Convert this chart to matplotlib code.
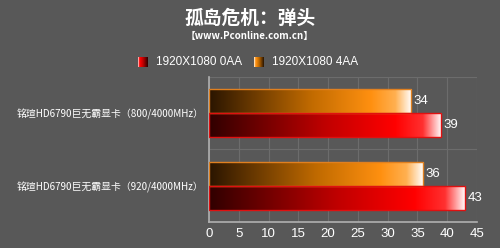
import matplotlib
matplotlib.use("Agg")
import matplotlib.pyplot as plt
import numpy as np
from matplotlib.colors import LinearSegmentedColormap

plt.rcParams['font.family'] = ['Noto Sans CJK SC', 'DejaVu Sans']

categories = ["铭瑄HD6790巨无霸显卡（800/4000MHz）", "铭瑄HD6790巨无霸显卡（920/4000MHz）"]
series_names = ["1920X1080 0AA", "1920X1080 4AA"]
values_0aa = [39, 43]
values_4aa = [34, 36]
x_ticks = [0, 5, 10, 15, 20, 25, 30, 35, 40, 45]

BG = "#585858"
red_cmap = LinearSegmentedColormap.from_list(
    "red", [(0, "#300000"), (0.5, "#c00000"), (0.8, "#ff0000"), (0.92, "#ff3030"), (1, "#ffffff")])
orange_cmap = LinearSegmentedColormap.from_list(
    "orange", [(0, "#2a1500"), (0.5, "#c06a00"), (0.8, "#ff9010"), (0.92, "#ffb050"), (1, "#ffffff")])

fig = plt.figure(figsize=(5, 2.48), dpi=100, facecolor=BG)
ax = fig.add_axes([0.418, 0.105, 0.536, 0.585])
ax.set_facecolor(BG)

bh = 0.33
y = np.arange(len(categories))
grad = np.linspace(0, 1, 256).reshape(1, -1)


def gradient_bar(ax, yc, val, cmap, edge):
    ax.imshow(grad, cmap=cmap, aspect="auto", extent=(0, val, yc + bh / 2, yc - bh / 2),
              zorder=3, interpolation="bilinear")
    ax.barh(yc, val, height=bh, facecolor="none", edgecolor=edge, linewidth=1.0, zorder=4)


for i in range(len(categories)):
    gradient_bar(ax, y[i] - bh / 2, values_4aa[i], orange_cmap, "#e08020")
    gradient_bar(ax, y[i] + bh / 2, values_0aa[i], red_cmap, "#e01010")
    ax.text(values_4aa[i] + 0.4, y[i] - bh / 2, str(values_4aa[i]), color="white",
            va="center", ha="left", fontsize=9.5, family=["Liberation Sans"], zorder=5)
    ax.text(values_0aa[i] + 0.4, y[i] + bh / 2, str(values_0aa[i]), color="white",
            va="center", ha="left", fontsize=9.5, family=["Liberation Sans"], zorder=5)

ax.set_xlim(0, 45)
ax.set_ylim(1.5, -0.5)
ax.set_xticks(x_ticks)
ax.set_xticklabels([str(t) for t in x_ticks], color="white", fontsize=9.5, family=["Liberation Sans"])
ax.set_yticks(y)
ax.set_yticklabels(categories, color="white", fontsize=7.1)
ax.tick_params(length=0, pad=4)
ax.set_yticks([-0.5, 0, 0.5, 1, 1.5], minor=True)
ax.grid(True, axis="x", color="#6c6c6c", linewidth=0.8, zorder=0)
ax.grid(True, axis="y", which="minor", color="#6c6c6c", linewidth=0.8, zorder=0)
for s in ["top", "right"]:
    ax.spines[s].set_visible(False)
for s in ["left", "bottom"]:
    ax.spines[s].set_color("#b0b0b0")
    ax.spines[s].set_linewidth(1.2)
ax.tick_params(axis="y", which="minor", length=0)

fig.text(0.5, 0.925, "孤岛危机：弹头", color="white", fontsize=13.5, fontweight="heavy",
         ha="center", va="center")
fig.text(0.5, 0.855, "【www.Pconline.com.cn】", color="white", fontsize=7, fontweight="bold",
         ha="center", va="center")

# legend
sw = fig.add_axes([0.276, 0.73, 0.019, 0.04])
sw.imshow(np.linspace(1, 0.2, 32).reshape(1, -1), cmap=red_cmap, aspect="auto")
sw.axis("off")
fig.text(0.313, 0.752, series_names[0], color="white", fontsize=8.5, family=["Liberation Sans"],
         ha="left", va="center")
sw2 = fig.add_axes([0.508, 0.73, 0.019, 0.04])
sw2.imshow(np.linspace(1, 0.2, 32).reshape(1, -1), cmap=orange_cmap, aspect="auto")
sw2.axis("off")
fig.text(0.545, 0.752, series_names[1], color="white", fontsize=8.5, family=["Liberation Sans"],
         ha="left", va="center")

fig.savefig("out.png", dpi=100, facecolor=BG)
